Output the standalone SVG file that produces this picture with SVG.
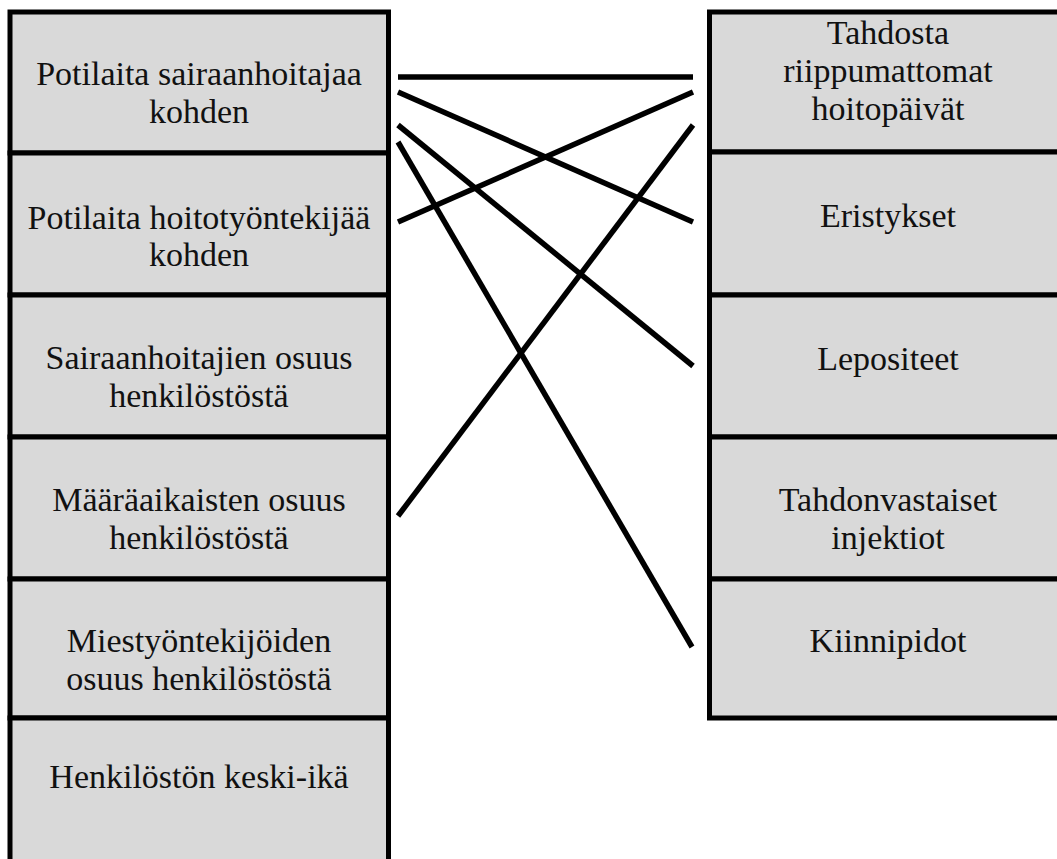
<svg xmlns="http://www.w3.org/2000/svg" width="1057" height="859" viewBox="0 0 1057 859">
<style>
.box{fill:#d9d9d9;stroke:#000;stroke-width:5}
.t{font-family:"Liberation Serif","Times New Roman",serif;font-size:34px;fill:#111;text-anchor:middle}
.c{stroke:#000;stroke-width:5.5;stroke-linecap:butt;fill:none}
</style>
<rect width="1057" height="859" fill="#fff"/>
<g id="left-1"><rect class="box" x="10" y="12" width="378.5" height="141"/><text class="t" x="199" y="85">Potilaita sairaanhoitajaa</text><text class="t" x="199" y="123">kohden</text></g>
<g id="left-2"><rect class="box" x="10" y="153" width="378.5" height="142"/><text class="t" x="199" y="229">Potilaita hoitotyöntekijää</text><text class="t" x="199" y="266">kohden</text></g>
<g id="left-3"><rect class="box" x="10" y="295" width="378.5" height="142"/><text class="t" x="199" y="369">Sairaanhoitajien osuus</text><text class="t" x="199" y="407">henkilöstöstä</text></g>
<g id="left-4"><rect class="box" x="10" y="437" width="378.5" height="142"/><text class="t" x="199" y="511">Määräaikaisten osuus</text><text class="t" x="199" y="549">henkilöstöstä</text></g>
<g id="left-5"><rect class="box" x="10" y="579" width="378.5" height="139"/><text class="t" x="199" y="652">Miestyöntekijöiden</text><text class="t" x="199" y="690">osuus henkilöstöstä</text></g>
<g id="left-6"><rect class="box" x="10" y="718" width="378.5" height="145"/><text class="t" x="199" y="788">Henkilöstön keski-ikä</text></g>
<g id="right-1"><rect class="box" x="709.5" y="12" width="360" height="140"/><text class="t" x="888" y="44">Tahdosta</text><text class="t" x="888" y="82">riippumattomat</text><text class="t" x="888" y="120">hoitopäivät</text></g>
<g id="right-2"><rect class="box" x="709.5" y="152" width="360" height="143"/><text class="t" x="888" y="227">Eristykset</text></g>
<g id="right-3"><rect class="box" x="709.5" y="295" width="360" height="142"/><text class="t" x="888" y="370">Lepositeet</text></g>
<g id="right-4"><rect class="box" x="709.5" y="437" width="360" height="142"/><text class="t" x="888" y="511">Tahdonvastaiset</text><text class="t" x="888" y="549">injektiot</text></g>
<g id="right-5"><rect class="box" x="709.5" y="579" width="360" height="139"/><text class="t" x="888" y="652">Kiinnipidot</text></g>
<g id="connectors">
<line class="c" x1="398" y1="77" x2="693" y2="77"/>
<line class="c" x1="398" y1="92" x2="693" y2="222"/>
<line class="c" x1="693" y1="92" x2="398" y2="222"/>
<line class="c" x1="398" y1="125" x2="693" y2="366"/>
<line class="c" x1="398" y1="142" x2="692" y2="647"/>
<line class="c" x1="693" y1="125" x2="398" y2="516"/>
</g>
</svg>
